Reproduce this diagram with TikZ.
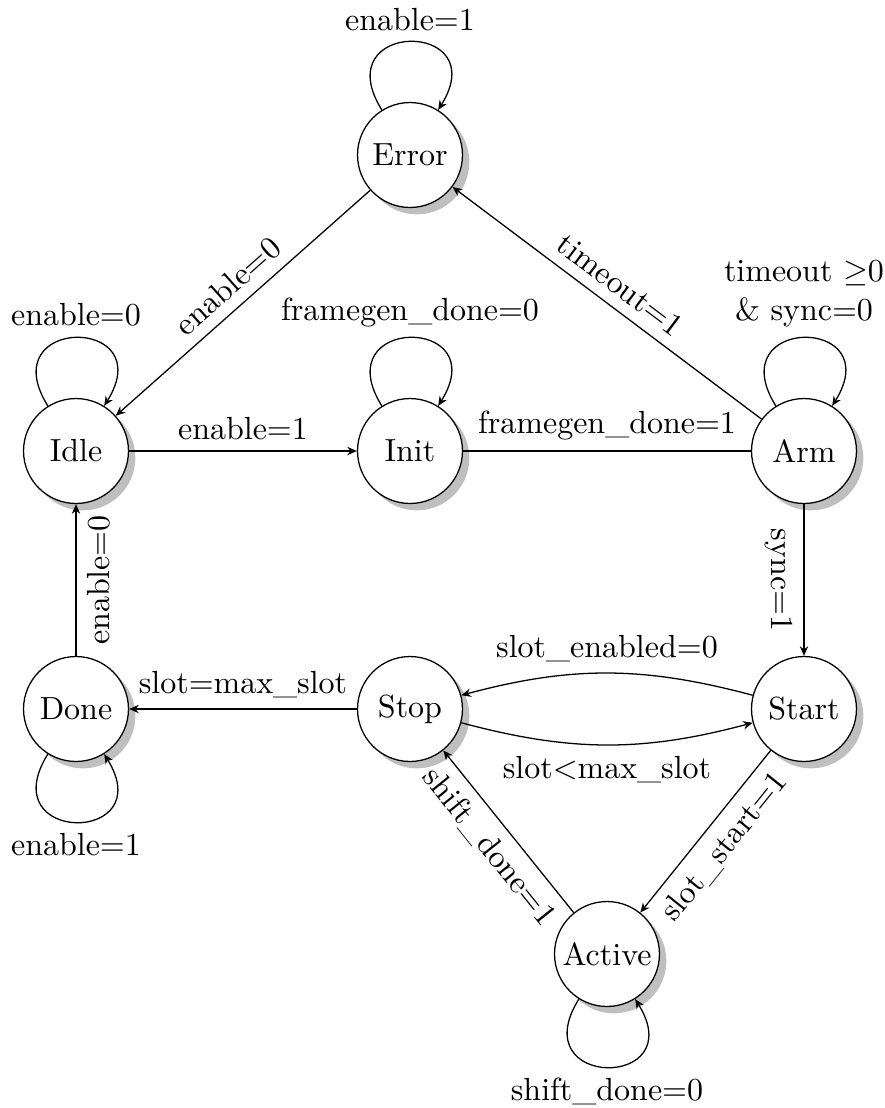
\documentclass[tikz,border=0pt]{standalone}
\usetikzlibrary{shadows,arrows.meta}
\begin{document}
\begin{tikzpicture}[x=0.3125pt,y=0.3125pt,
  fsm/.style={circle,draw,fill=white,minimum size=32.8pt,inner sep=0pt,drop shadow},
  edge/.style={-{Stealth[length=3pt,width=2.6pt]}},
  plain/.style={-}]
\useasboundingbox (0,0) rectangle (885,-1108);

% states
\node[fsm] (error)  at (410,-155) {Error};
\node[fsm] (idle)   at (76,-451)  {Idle};
\node[fsm] (init)   at (410,-451) {Init};
\node[fsm] (arm)    at (804,-451) {Arm};
\node[fsm] (done)   at (76,-709)  {Done};
\node[fsm] (stop)   at (410,-709) {Stop};
\node[fsm] (start)  at (804,-709) {Start};
\node[fsm] (active) at (607,-954) {Active};

% self loops
\draw[edge] (error.122) .. controls +(122:107) and +(58:107) .. node[above] {enable=1} (error.58);
\draw[edge] (idle.122) .. controls +(122:107) and +(58:107) .. node[above] {enable=0} (idle.58);
\draw[edge] (init.122) .. controls +(122:107) and +(58:107) .. node[above] {framegen\_done=0} (init.58);
\draw[edge] (arm.122) .. controls +(122:107) and +(58:107) .. node[above,align=center] {timeout $\geq$0\\\& sync=0} (arm.58);
\draw[edge] (done.238) .. controls +(238:107) and +(302:107) .. node[below] {enable=1} (done.302);
\draw[edge] (active.238) .. controls +(238:107) and +(302:107) .. node[below] {shift\_done=0} (active.302);

% transitions
\draw[edge] (error) -- node[sloped,above] {enable=0} (idle);
\draw[edge] (arm) -- node[sloped,above] {timeout=1} (error);
\draw[edge] (idle) -- node[above] {enable=1} (init);
\draw[plain] (init) -- node[above] {framegen\_done=1} (arm);
\draw[edge] (arm) -- node[below,rotate=-90] {sync=1} (start);
\draw[edge] (done) -- node[below,rotate=90] {enable=0} (idle);
\draw[edge] (start) to[bend right=15] node[above] {slot\_enabled=0} (stop);
\draw[edge] (stop) to[bend right=15] node[below] {slot<max\_slot} (start);
\draw[edge] (stop) -- node[above] {slot=max\_slot} (done);
\draw[edge] (start) -- node[sloped,below] {slot\_start=1} (active);
\draw[edge] (active) -- node[sloped,below] {shift\_done=1} (stop);
\end{tikzpicture}
\end{document}
